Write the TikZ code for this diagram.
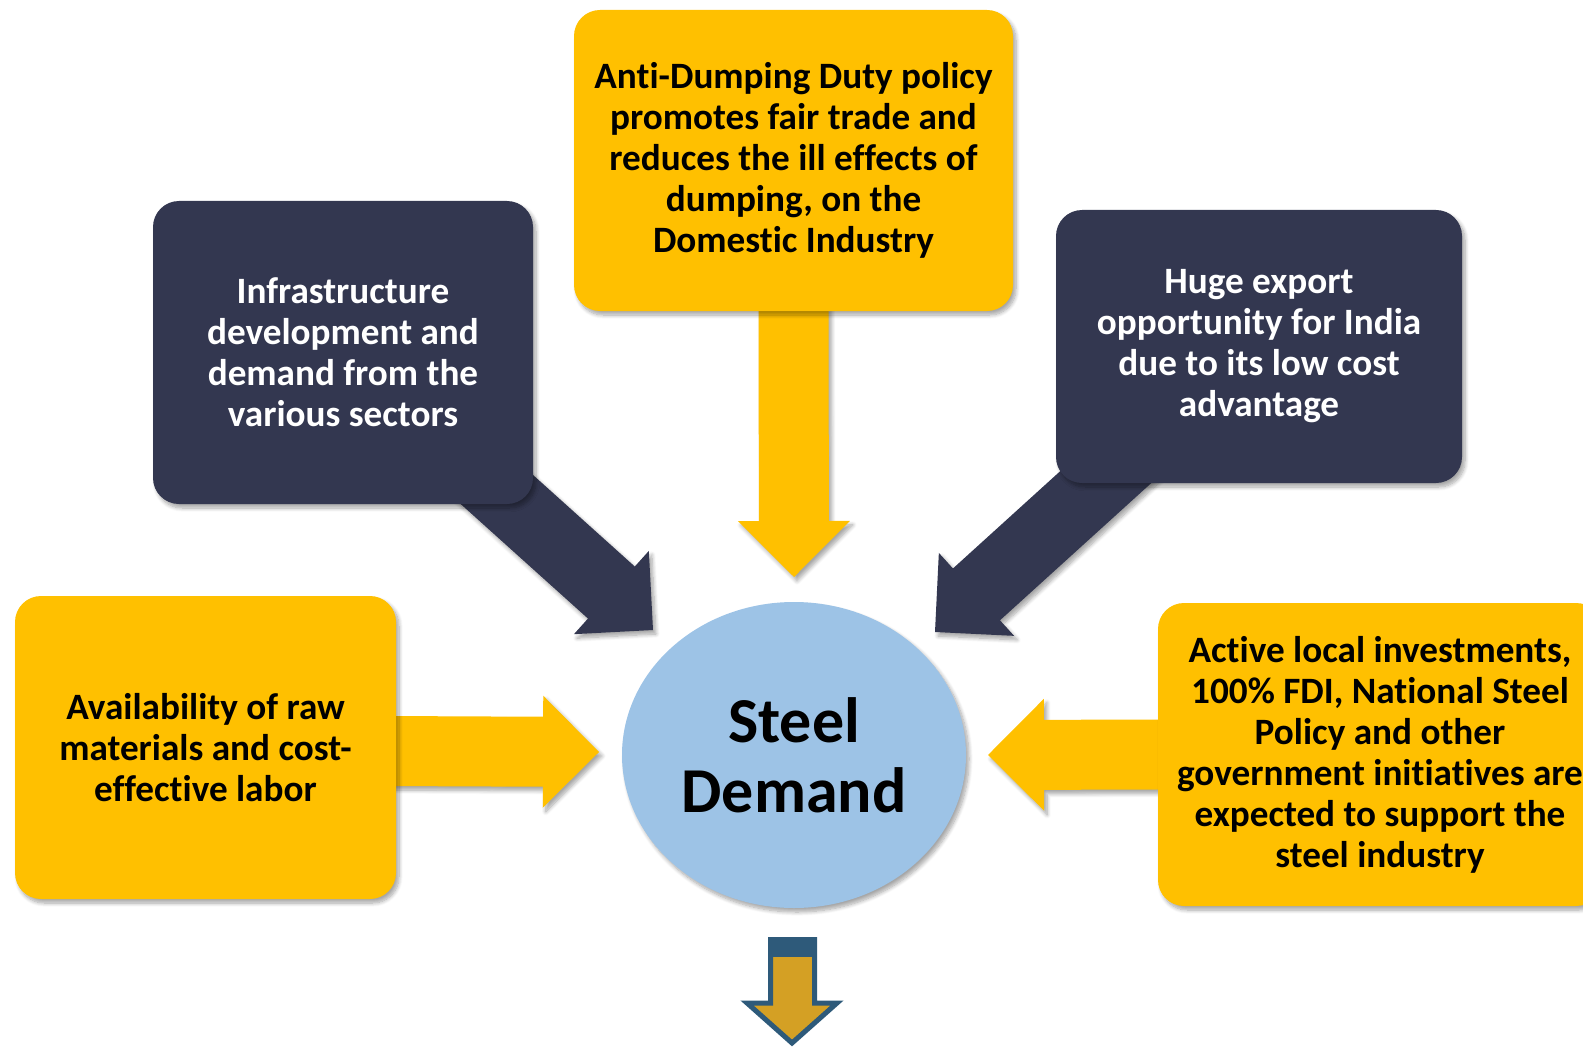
\documentclass[tikz,border=0pt]{standalone}
\usepackage{fontspec}
\setmainfont{Carlito}[Ligatures=NoCommon]
\usetikzlibrary{calc,positioning,backgrounds,shapes.geometric,shadows.blur}

\definecolor{boxyellow}{HTML}{FFC000}
\definecolor{boxnavy}{HTML}{333750}
\definecolor{ovalblue}{HTML}{9DC3E6}
\definecolor{downgold}{HTML}{D4A024}
\definecolor{downblue}{HTML}{2E5A7A}

% block arrow: #1 start, #2 tip, #3 colour
\newcommand{\blockarrow}[3]{%
	\coordinate (hb) at ($(#2)!28pt!(#1)$);
	\fill[#3,softshadow] ($(#1)!17.5pt!90:(#2)$) -- ($(hb)!17.5pt!90:(#2)$) -- ($(hb)!28pt!90:(#2)$) -- (#2)
		-- ($(hb)!28pt!-90:(#2)$) -- ($(hb)!17.5pt!-90:(#2)$) -- ($(#1)!17.5pt!-90:(#2)$) -- cycle;
}

\tikzset{
	softshadow/.style={blur shadow={shadow xshift=1.5pt,shadow yshift=-2pt,shadow blur steps=8,shadow opacity=35}},
	boxtext/.style={font=\fontsize{18.6}{20.5}\selectfont\bfseries,align=center,inner sep=0pt,rounded corners=13pt,softshadow},
	yellowbox/.style={boxtext,fill=boxyellow,text=black},
	navybox/.style={boxtext,fill=boxnavy,text=white},
}

\begin{document}
\begin{tikzpicture}[x=0.5pt,y=-0.5pt]
	\useasboundingbox (0,0) rectangle (1583,1048);
	\clip (0,0) rectangle (1583,1048);
	% boxes
	\node[yellowbox,minimum width=219.5pt,minimum height=150.5pt] (antidump) at (793.5,160.5)
		{Anti-Dumping Duty policy\\promotes fair trade and\\reduces the ill effects of\\dumping, on the\\Domestic Industry};
	\node[navybox,minimum width=190pt,minimum height=151.5pt] (infra) at (343,352.5)
		{Infrastructure\\development and\\demand from the\\various sectors};
	\node[navybox,minimum width=203pt,minimum height=136.5pt] (export) at (1259,346.5)
		{Huge export\\opportunity for India\\due to its low cost\\advantage};
	\node[yellowbox,minimum width=190.5pt,minimum height=151.5pt] (rawmat) at (205.5,747.5)
		{Availability of raw\\materials and cost-\\effective labor};
	\node[yellowbox,minimum width=222pt,minimum height=151.5pt] (invest) at (1380,754.5)
		{Active local investments,\\100\% FDI, National Steel\\Policy and other\\government initiatives are\\expected to support the\\steel industry};
	\node[ellipse,fill=ovalblue,minimum width=172pt,minimum height=153pt,inner sep=0pt,softshadow,
		font=\fontsize{32}{35}\selectfont\bfseries,align=center] (demand) at (794,755) {Steel\\Demand};

	% arrows
	\coordinate (fromN) at ($(antidump.south)+(0,-5)$);
	\coordinate (fromNW) at ($(infra.south east)+(-70,-45)$);
	\coordinate (fromNE) at ($(export.south west)+(84,-37)$);
	\coordinate (fromW) at ($(rawmat.east)+(-10,3.5)$);
	\coordinate (fromE) at ($(invest.west)+(10,0)$);
	\coordinate (tipN) at (794,577);
	\coordinate (tipNW) at (653,630);
	\coordinate (tipNE) at (935,632);
	\coordinate (tipW) at (599,752);
	\coordinate (tipE) at (988,755);
	\begin{pgfonlayer}{background}
		\blockarrow{fromN}{tipN}{boxyellow}
		\blockarrow{fromNW}{tipNW}{boxnavy}
		\blockarrow{fromNE}{tipNE}{boxnavy}
		\blockarrow{fromW}{tipW}{boxyellow}
		\blockarrow{fromE}{tipE}{boxyellow}
	\end{pgfonlayer}

	% down arrow
	\filldraw[fill=downgold,draw=downblue,line width=2.5pt,line join=miter]
		(770.5,939.5) -- (814.5,939.5) -- (814.5,1003) -- (837,1003) -- (792,1043)
		-- (747,1003) -- (770.5,1003) -- cycle;
	\fill[downblue] (768,937) rectangle (817,957);
\end{tikzpicture}
\end{document}
